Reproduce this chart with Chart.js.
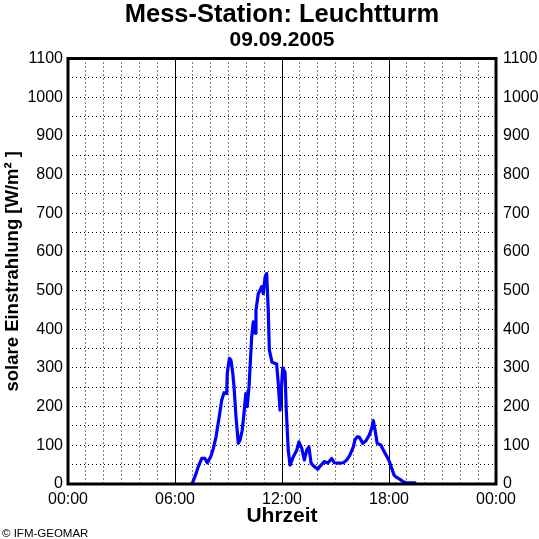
<!DOCTYPE html>
<html><head><meta charset="utf-8">
<script src="https://cdn.jsdelivr.net/npm/chart.js@4"></script>
<style>html,body{margin:0;padding:0;background:#fff}canvas{display:block}</style>
</head><body>
<canvas id="c" width="539" height="539"></canvas>
<script>
const chartTitle = 'Mess-Station: Leuchtturm';
const chartDate = '09.09.2005';
const xAxisTitle = 'Uhrzeit';
const yAxisTitle = 'solare Einstrahlung [W/m² ]';
const copyright = '© IFM-GEOMAR';
const xTickLabels = ['00:00', '06:00', '12:00', '18:00', '00:00'];
const solidHourLines = [6, 12, 18];

// time of day in hours
const hours = [
  6.95, 7.12, 7.31, 7.50, 7.68, 7.81, 8.00, 8.15, 8.30, 8.48, 8.62, 8.75, 8.90, 8.93, 9.05, 9.14,
  9.24, 9.31, 9.42, 9.55, 9.65, 9.77, 9.87, 9.97, 10.05, 10.15, 10.21, 10.30, 10.39, 10.49, 10.54,
  10.67, 10.77, 10.86, 10.95, 11.05, 11.14, 11.23, 11.29, 11.44, 11.70, 11.79, 11.89, 12.04, 12.17,
  12.24, 12.35, 12.45, 12.63, 12.83, 12.95, 13.11, 13.25, 13.39, 13.51, 13.63, 13.81, 14.00, 14.19,
  14.37, 14.56, 14.79, 14.93, 15.16, 15.44, 15.63, 15.81, 16.00, 16.09, 16.22, 16.34, 16.53, 16.71,
  16.90, 17.03, 17.12, 17.22, 17.34, 17.54, 17.68, 17.87, 18.02, 18.15, 18.28, 18.43, 18.62, 18.80,
  18.99, 19.18, 19.46
];
// solar irradiance in W/m²
const irradiance = [
  0, 19, 45, 66, 66, 55, 70, 92, 122, 174, 217, 236, 234, 286, 325, 320,
  286, 251, 174, 105, 114, 139, 183, 234, 200, 251, 303, 380, 419, 390, 449,
  492, 501, 510, 492, 535, 544, 449, 346, 315, 310, 261, 191, 300, 289,
  191, 88, 49, 70, 88, 109, 92, 62, 88, 96, 54, 45, 38, 49,
  58, 54, 66, 55, 54, 55, 62, 75, 96, 114, 122, 121, 105, 112,
  127, 144, 164, 139, 105, 101, 88, 72, 58, 41, 23, 17, 12, 6,
  3, 3, 3
];

const FONT = "'Liberation Sans', Arial, Helvetica, sans-serif";
Chart.defaults.font.family = FONT;
Chart.defaults.color = '#000';

const framePlugin = {
  id: 'frame',
  beforeDatasetsDraw(chart) {
    const {ctx, chartArea: a, scales: {x}} = chart;
    ctx.save();
    ctx.strokeStyle = '#000';
    ctx.lineWidth = 1;
    solidHourLines.forEach(h => {
      const px = Math.round(x.getPixelForValue(h)) + 0.5;
      ctx.beginPath(); ctx.moveTo(px, a.top); ctx.lineTo(px, a.bottom); ctx.stroke();
    });
    ctx.restore();
  },
  afterDatasetsDraw(chart) {
    const {ctx, chartArea: a} = chart;
    ctx.save();
    ctx.strokeStyle = '#000';
    ctx.lineWidth = 3;
    ctx.strokeRect(a.left, a.top, a.right - a.left, a.bottom - a.top);
    ctx.restore();
  },
  afterDraw(chart) {
    const {ctx} = chart;
    ctx.save();
    ctx.fillStyle = '#000';
    ctx.font = '11.5px ' + FONT;
    ctx.textBaseline = 'alphabetic';
    ctx.textAlign = 'left';
    ctx.fillText(copyright, 2, 537);
    ctx.restore();
  }
};

new Chart(document.getElementById('c'), {
  type: 'line',
  data: {
    datasets: [{
      data: hours.map((h, i) => ({x: h, y: irradiance[i]})),
      borderColor: '#0000ff',
      borderWidth: 3.2,
      borderJoinStyle: 'round',
      borderCapStyle: 'round',
      pointRadius: 0,
      tension: 0,
      fill: false,
      yAxisID: 'y'
    }]
  },
  options: {
    responsive: false,
    animation: false,
    events: [],
    layout: {padding: {left: 0, right: 0, top: 0, bottom: 10}},
    plugins: {
      legend: {display: false},
      tooltip: {enabled: false},
      title: {
        display: true, text: chartTitle, fullSize: false, color: '#000',
        font: {family: FONT, size: 25.5, weight: 'bold', lineHeight: 1.0},
        padding: {top: 2, bottom: 0}
      },
      subtitle: {
        display: true, text: chartDate, fullSize: false, color: '#000',
        font: {family: FONT, size: 21, weight: 'bold', lineHeight: 1.0},
        padding: {top: 2, bottom: 8}
      }
    },
    scales: {
      x: {
        type: 'linear', min: 0, max: 24,
        ticks: {
          stepSize: 1, autoSkip: false, maxRotation: 0, padding: 6, color: '#000',
          font: {family: FONT, size: 16},
          callback: v => (v % 6 === 0 ? xTickLabels[v / 6] : '')
        },
        grid: {color: '#000', lineWidth: 1, drawTicks: false},
        border: {display: false, dash: [1, 3]},
        title: {
          display: true, text: xAxisTitle, color: '#000', padding: 0,
          font: {family: FONT, size: 21, weight: 'bold', lineHeight: 1.24}
        },
        afterFit(s) { s.height = 45; }
      },
      y: {
        position: 'left', min: 0, max: 1100,
        ticks: {
          stepSize: 50, autoSkip: false, padding: 5, color: '#000',
          font: {family: FONT, size: 16},
          callback: v => (v % 100 === 0 ? String(v) : '')
        },
        grid: {color: '#000', lineWidth: 1, drawTicks: false},
        border: {display: false, dash: [1, 3]},
        title: {
          display: true, text: yAxisTitle, color: '#000', padding: 0,
          font: {family: FONT, size: 18.5, weight: 'bold', lineHeight: 1.36}
        },
        afterFit(s) { s.width = 68; }
      },
      y2: {
        position: 'right', min: 0, max: 1100,
        ticks: {
          stepSize: 100, autoSkip: false, padding: 7, color: '#000',
          font: {family: FONT, size: 16},
          callback: v => String(v)
        },
        grid: {display: false, drawTicks: false},
        border: {display: false},
        afterFit(s) { s.width = 43; }
      }
    }
  },
  plugins: [framePlugin]
});
</script>
</body></html>
